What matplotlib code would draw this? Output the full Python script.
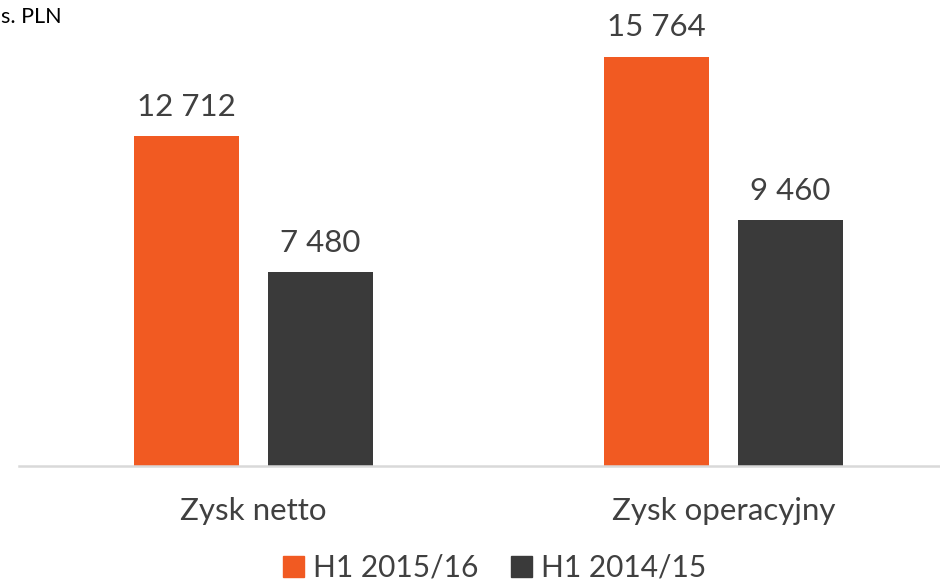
import numpy as np
import matplotlib
matplotlib.use("Agg")
import matplotlib.pyplot as plt
from matplotlib.patches import Patch

plt.rcParams['font.family'] = ['Lato', 'DejaVu Sans']

categories = ["Zysk netto", "Zysk operacyjny"]
series_names = ["H1 2015/16", "H1 2014/15"]
h1_2015 = [12712, 15764]
h1_2014 = [7480, 9460]
unit_label = "s. PLN"  # only the tail of the unit label is visible

orange = "#F15A22"
dark = "#3A3A3A"
text_col = "#404040"


def fmt(v):
    return "{:,}".format(v).replace(",", " ")


def main():
    fig = plt.figure(figsize=(9.40, 5.83), dpi=100)
    # axes: left 19px, baseline at 466px from top, right edge runs off the canvas
    ax = fig.add_axes([19 / 940, 117 / 583, 921 / 940, 466 / 583])

    x = np.arange(len(categories))
    w = 0.2234
    off = 0.1426
    b1 = ax.bar(x - off, h1_2015, w, color=orange, label=series_names[0])
    b2 = ax.bar(x + off, h1_2014, w, color=dark, label=series_names[1])

    for bars in (b1, b2):
        for r in bars:
            ax.annotate(fmt(int(r.get_height())),
                        (r.get_x() + r.get_width() / 2, r.get_height()),
                        xytext=(0, 11), textcoords="offset points",
                        ha="center", va="bottom", fontsize=22.5, color=text_col)

    ax.set_xlim(-0.499, 1.461)
    ax.set_ylim(0, 17951)
    ax.set_xticks(x)
    ax.set_xticklabels(categories, fontsize=22.5, color=text_col)
    ax.tick_params(axis="x", length=0, pad=22)
    ax.set_yticks([])
    for s in ["top", "right", "left"]:
        ax.spines[s].set_visible(False)
    ax.spines["bottom"].set_color("#D9D9D9")
    ax.spines["bottom"].set_linewidth(1.8)

    fig.text(1 / 940, 1 - 17 / 583, unit_label, ha="left", va="center",
             fontsize=15.5, color="#000000")

    handles = [Patch(color=orange), Patch(color=dark)]
    fig.legend(handles, series_names, loc="center", ncol=2,
               bbox_to_anchor=(495 / 940, 15 / 583), frameon=False,
               fontsize=21.5, labelcolor=text_col, handlelength=0.7,
               handleheight=0.7, handletextpad=0.3, columnspacing=1.1)

    fig.savefig("out.png", dpi=100)


if __name__ == '__main__':
    main()
